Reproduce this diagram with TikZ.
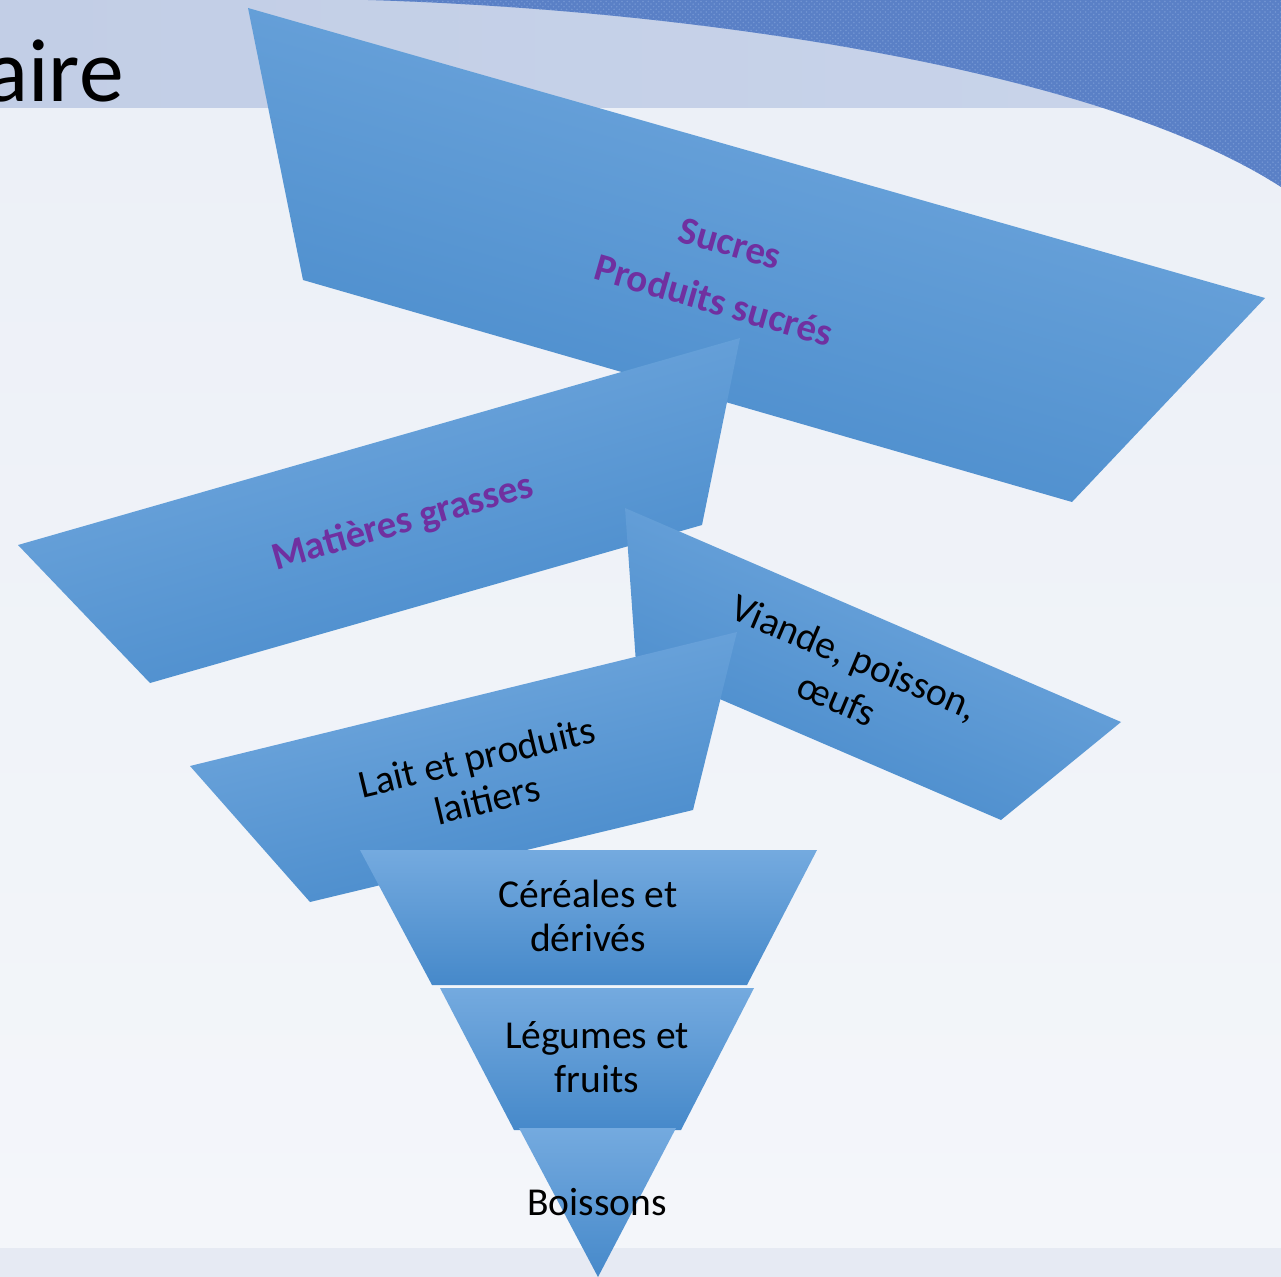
\documentclass[tikz,border=0pt]{standalone}
\usepackage{fontspec}
\setmainfont{Carlito}
\usetikzlibrary{patterns}
\definecolor{bandehaut}{HTML}{C2CEE6}
\definecolor{bandedroite}{HTML}{C9D4EA}
\definecolor{fondhaut}{HTML}{ECF0F7}
\definecolor{fondbas}{HTML}{F4F6FA}
\definecolor{bandebas}{HTML}{E6EAF3}
\definecolor{arcfonce}{HTML}{5A80C6}
\definecolor{arcclair}{HTML}{7396D3}
\definecolor{couchehaut}{HTML}{74AADF}
\definecolor{couchebas}{HTML}{4689CA}
\definecolor{pourpre}{HTML}{7030A0}

\begin{document}
\begin{tikzpicture}[x=0.02cm,y=-0.02cm,
  couche/.style={top color=couchehaut,bottom color=couchebas},
  texte/.style={align=center,inner sep=0pt,text=black,font=\fontsize{22.5}{25}\selectfont},
  texteviolet/.style={align=center,inner sep=0pt,text=pourpre,font=\bfseries\fontsize{22.2}{25}\selectfont}]
 \useasboundingbox (0,0) rectangle (1281,1277);
 % fond de la diapositive
 \shade[top color=fondhaut,bottom color=fondbas] (0,108) rectangle (1281,1248);
 \fill[bandebas] (0,1248) rectangle (1281,1277);
 \shade[left color=bandehaut,right color=bandedroite] (0,0) rectangle (1281,108);
 \fill[arcfonce] (368,0) .. controls (700,10) and (1100,70) .. (1281,187) -- (1281,0) -- cycle;
 \fill[pattern=crosshatch dots,pattern color=arcclair] (368,0) .. controls (700,10) and (1100,70) .. (1281,187) -- (1281,0) -- cycle;
 \node[anchor=base east,inner sep=0pt,font=\fontsize{51}{51}\selectfont] (titre) at (124,102) {aire};
 % couches de la pyramide
 \shade[couche,shading angle=-16] (248,8) -- (1265,298) -- (1072,502) -- (303,280) -- cycle;
 \node[texteviolet,rotate=-16,font=\bfseries\fontsize{22.2}{34}\selectfont] (sucres) at (722,272) {Sucres\\Produits sucrés};
 \shade[couche,shading angle=16] (18,545) -- (740,338) -- (702,525) -- (150,683) -- cycle;
 \node[texteviolet,rotate=16] (matieres) at (403,523) {Matières grasses};
 \shade[couche,shading angle=-23] (625,508) -- (1121,722) -- (1001,820) -- (636,663) -- cycle;
 \node[texte,rotate=-23,font=\fontsize{22.5}{26}\selectfont] (viande) at (846,678) {Viande, poisson,\\œufs};
 \shade[couche,shading angle=13.5] (190,766) -- (737,632) -- (693,810) -- (310,902) -- cycle;
 \node[texte,rotate=13.5] (lait) at (482,778) {Lait et produits\\laitiers};
 \shade[couche] (360,850) -- (817,850) -- (747,985) -- (432,985) -- cycle;
 \node[texte] (cereales) at (588,916) {Céréales et\\dérivés};
 \shade[couche] (440,988) -- (754,988) -- (681,1130) -- (514,1130) -- cycle;
 \node[texte] (legumes) at (597,1057) {Légumes et\\fruits};
 \shade[couche] (519,1128) -- (676,1128) -- (598,1277) -- cycle;
 \node[texte] (boissons) at (597,1202) {Boissons};
\end{tikzpicture}
\end{document}
